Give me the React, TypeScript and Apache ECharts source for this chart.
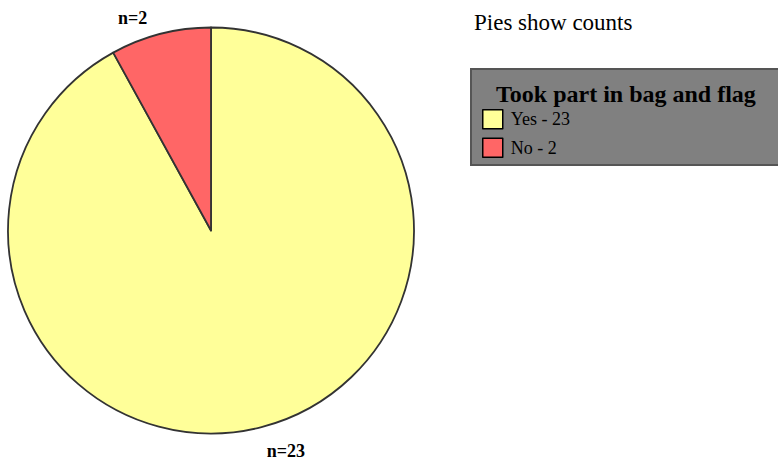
import React, { useEffect, useRef } from "react";
import * as echarts from "echarts";

const categories = ["Yes", "No"];
const counts = [23, 2];
const colors = ["#FFFF99", "#FF6666"];
const subtitle = "Pies show counts";
const legendTitle = "Took part in bag and flag";

export default function App() {
  const ref = useRef<HTMLDivElement>(null);
  useEffect(() => {
    if (!ref.current) return;
    const chart = echarts.init(ref.current, null, { renderer: "svg" });
    const font = "'Liberation Serif', 'Times New Roman', serif";
    const data = categories.map((c, i) => ({
      name: c,
      value: counts[i],
      itemStyle: { color: colors[i] },
      label: { offset: i === 1 ? [-2, 8] : [-6, 0] },
    }));
    chart.setOption({
      animation: false,
      backgroundColor: "#ffffff",
      graphic: [
        {
          type: "text",
          left: 474,
          top: 11,
          style: { text: subtitle, font: `23px ${font}`, fill: "#000" },
        },
        {
          type: "rect",
          shape: { x: 471, y: 69, width: 320, height: 96 },
          style: { fill: "#808080", stroke: "#555555", lineWidth: 2 },
          z: -1,
        },
        {
          type: "text",
          left: 496,
          top: 82,
          style: { text: legendTitle, font: `bold 24px ${font}`, fill: "#000" },
        },
      ],
      legend: {
        orient: "vertical",
        left: 482,
        top: 109,
        padding: 0,
        itemWidth: 20,
        itemHeight: 19,
        itemGap: 8,
        icon: "rect",
        selectedMode: false,
        itemStyle: { borderColor: "#000", borderWidth: 1.5 },
        textStyle: {
          fontFamily: font,
          fontSize: 18,
          color: "#000",
          padding: [0, 0, 0, 3],
        },
        formatter: (name: string) => `${name} - ${counts[categories.indexOf(name)]}`,
        data: categories,
      },
      series: [
        {
          type: "pie",
          center: [211, 230.5],
          radius: 203,
          startAngle: 90,
          clockwise: true,
          avoidLabelOverlap: false,
          itemStyle: { borderColor: "#333333", borderWidth: 1.8 },
          emphasis: { disabled: true },
          label: {
            show: true,
            position: "outside",
            formatter: "n={c}",
            fontFamily: font,
            fontWeight: "bold",
            fontSize: 18,
            color: "#000",
          },
          labelLine: { show: false, length: 25, length2: 0 },
          data,
        },
      ],
    });
    return () => chart.dispose();
  }, []);
  return (
    <div
      ref={ref}
      style={{ position: "fixed", left: 0, top: 0, width: 778, height: 464 }}
    />
  );
}
